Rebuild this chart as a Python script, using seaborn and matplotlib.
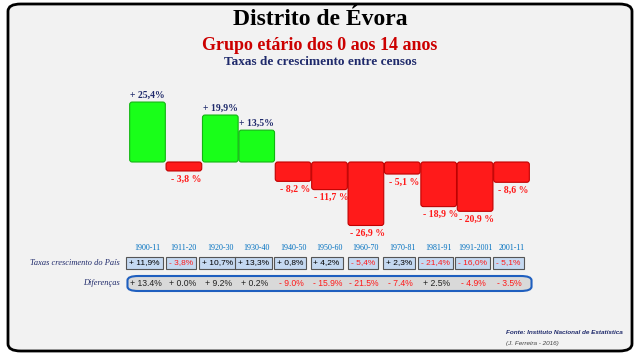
import matplotlib.pyplot as plt
import matplotlib.transforms as mtransforms
from matplotlib.patches import FancyBboxPatch
import pandas as pd
import seaborn as sns

periodos = ["1900-11", "1911-20", "1920-30", "1930-40", "1940-50", "1950-60",
            "1960-70", "1970-81", "1981-91", "1991-2001", "2001-11"]
taxas = [25.4, -3.8, 19.9, 13.5, -8.2, -11.7, -26.9, -5.1, -18.9, -20.9, -8.6]
taxas_pais = [11.9, -3.8, 10.7, 13.3, 0.8, 4.2, -5.4, 2.3, -21.4, -16.0, -5.1]
diferencas = [13.4, 0.0, 9.2, 0.2, -9.0, -15.9, -21.5, -7.4, 2.5, -4.9, -3.5]

df = pd.DataFrame({"periodo": periodos, "taxa": taxas})
df["sinal"] = ["pos" if v >= 0 else "neg" for v in taxas]

sns.set_style("white")
plt.rcParams["font.family"] = ["Liberation Serif", "DejaVu Serif"]

bg = "#f2f2f2"
fig = plt.figure(figsize=(6.4, 3.6), dpi=100)
fig.patch.set_facecolor("white")

# moldura arredondada
frame = FancyBboxPatch((8 / 640, 9 / 360), 624 / 640, 347 / 360,
                       boxstyle="round,pad=0,rounding_size=0.02",
                       transform=fig.transFigure, facecolor=bg,
                       edgecolor="black", linewidth=2, zorder=-5)
fig.patches.append(frame)

fig.text(0.5, 0.945, "Distrito de Évora", ha="center", va="center",
         fontsize=17, fontweight="bold", color="black")
fig.text(0.5, 0.875, "Grupo etário dos 0 aos 14 anos", ha="center", va="center",
         fontsize=13, fontweight="bold", color="#cc0000")
fig.text(0.5, 0.827, "Taxas de crescimento entre censos", ha="center", va="center",
         fontsize=9.5, fontweight="bold", color="#1f2a6b")

ax = fig.add_axes([129.3 / 640, 1 - 256.4 / 360, 400.4 / 640, 0.4589])
ax.set_facecolor("none")
sns.barplot(data=df, x="periodo", y="taxa", hue="sinal",
            palette={"pos": "#19ff19", "neg": "#ff1a1a"}, saturation=1,
            dodge=False, width=1.0, legend=False, ax=ax)

# cantos arredondados: refaz cada barra do seaborn com FancyBboxPatch
for bar in list(ax.patches):
    x0, y0 = bar.get_x(), bar.get_y()
    w, h = bar.get_width(), bar.get_height()
    if w == 0 or h == 0:
        continue
    pos = (y0 + h) > 0 if h > 0 else False
    yb, hb = (y0, h) if h > 0 else (y0 + h, -h)
    fb = FancyBboxPatch((x0 + 0.01, yb), w - 0.02, hb,
                        boxstyle="round,pad=0,rounding_size=0.07",
                        mutation_aspect=15.4,
                        facecolor=bar.get_facecolor(),
                        edgecolor="#12b512" if h > 0 else "#c00000",
                        linewidth=0.8, zorder=2)
    ax.add_patch(fb)
    bar.set_visible(False)

ax.set_xlim(-0.5, len(periodos) - 0.5)
ax.set_ylim(-40, 30)
ax.axis("off")

for i, v in enumerate(taxas):
    if v >= 0:
        ax.text(i, v + 0.8, f"+ {v:.1f}%".replace(".", ","), ha="center", va="bottom",
                fontsize=7, fontweight="bold", color="#1f2a6b")
    else:
        ax.text(i + 0.05, v - 1.5, f"- {abs(v):.1f} %".replace(".", ","), ha="center",
                va="top", fontsize=7, fontweight="bold", color="#ff1a1a")

# linhas da tabela (x em dados, y em figura)
trans = mtransforms.blended_transform_factory(ax.transData, fig.transFigure)
y_cat = 1 - 248 / 360
y_pais = 1 - 263 / 360
y_dif = 1 - 283 / 360

for i, p in enumerate(periodos):
    ax.text(i, y_cat, p, transform=trans, ha="center", va="center",
            fontsize=5.8, color="#0070c0", clip_on=False)

for i, v in enumerate(taxas_pais):
    s = (f"+ {v:.1f}%" if v >= 0 else f"- {abs(v):.1f}%").replace(".", ",")
    ax.text(i - 0.08, y_pais, s, transform=trans, ha="center", va="center",
            fontsize=6, family="Liberation Sans",
            color="black" if v >= 0 else "#ff1a1a", clip_on=False,
            bbox=dict(boxstyle="square,pad=0.35", facecolor="#c5d9f1",
                      edgecolor="#555555", linewidth=0.8))

dif_box = FancyBboxPatch((-0.55, 1 - 291 / 360), 11.1, 15 / 360,
                         boxstyle="round,pad=0,rounding_size=0.3",
                         transform=trans, facecolor="#d9d9d9",
                         edgecolor="#1f5fbf", linewidth=1.5,
                         mutation_aspect=0.04, clip_on=False)
ax.add_patch(dif_box)
for i, v in enumerate(diferencas):
    s = f"+ {v:.1f}%" if v >= 0 else f"- {abs(v):.1f}%"
    ax.text(i - 0.05, y_dif, s, transform=trans, ha="center", va="center",
            fontsize=6.2, family="Liberation Sans",
            color="#222222" if v >= 0 else "#ff1a1a", clip_on=False)

fig.text(120 / 640, y_pais, "Taxas crescimento do País", ha="right", va="center",
         fontsize=6, style="italic", color="#1f2a6b")
fig.text(120 / 640, y_dif, "Diferenças", ha="right", va="center",
         fontsize=6, style="italic", color="#1f2a6b")

fig.text(623 / 640, 1 - 333 / 360, "Fonte: Instituto Nacional de Estatística",
         ha="right", va="center", fontsize=4.6, family="Liberation Sans",
         style="italic", fontweight="bold", color="#1f2a6b")
fig.text(506 / 640, 1 - 343 / 360, "(J. Ferreira - 2016)", ha="left", va="center",
         fontsize=4.6, family="Liberation Sans", style="italic", color="#444444")

fig.savefig("out.png", dpi=100, facecolor=fig.get_facecolor())
